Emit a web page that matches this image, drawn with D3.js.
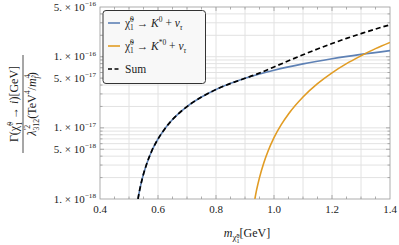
<!DOCTYPE html>
<html>
<head>
<meta charset="utf-8">
<script src="https://cdn.jsdelivr.net/npm/d3@7"></script>
<style>
  body { margin: 0; background: #fff; }
  text { font-family: "Liberation Serif", "DejaVu Serif", serif; }
</style>
</head>
<body>
<svg id="chart" width="399" height="245"></svg>
<script>
// chi~0_1 -> K0 + nu_tau
const massK0 = [0.531, 0.535, 0.54, 0.55, 0.56, 0.58, 0.6, 0.625, 0.65, 0.7, 0.75, 0.8, 0.9, 1.0, 1.1, 1.2, 1.3, 1.4];
const widthK0 = [1.0e-18, 1.23e-18, 1.54e-18, 2.24e-18, 3.03e-18, 4.89e-18, 6.97e-18, 9.9e-18, 1.31e-17, 1.99e-17, 2.71e-17, 3.46e-17, 4.97e-17, 6.46e-17, 7.94e-17, 9.38e-17, 1.08e-16, 1.22e-16];

// chi~0_1 -> K*0 + nu_tau
const massKstar = [0.934, 0.94, 0.95, 0.965, 0.98, 1.0, 1.025, 1.05, 1.1, 1.15, 1.2, 1.25, 1.3, 1.35, 1.4];
const widthKstar = [1.0e-18, 1.34e-18, 2.0e-18, 3.24e-18, 4.77e-18, 7.28e-18, 1.11e-17, 1.57e-17, 2.72e-17, 4.18e-17, 5.94e-17, 8.0e-17, 1.03e-16, 1.3e-16, 1.59e-16];

// Sum
const massSum = [0.531, 0.535, 0.54, 0.55, 0.56, 0.58, 0.6, 0.625, 0.65, 0.7, 0.75, 0.8, 0.9, 0.934, 0.95, 1.0, 1.05, 1.1, 1.15, 1.2, 1.25, 1.3, 1.35, 1.4];
const widthSum = [1.0e-18, 1.23e-18, 1.54e-18, 2.24e-18, 3.03e-18, 4.89e-18, 6.97e-18, 9.9e-18, 1.31e-17, 1.99e-17, 2.71e-17, 3.46e-17, 4.97e-17, 5.56e-17, 5.89e-17, 7.19e-17, 8.76e-17, 1.066e-16, 1.283e-16, 1.532e-16, 1.809e-16, 2.11e-16, 2.45e-16, 2.81e-16];

const xTicks = [0.4, 0.6, 0.8, 1.0, 1.2, 1.4];
const yTicks = [1e-18, 5e-18, 1e-17, 5e-17, 1e-16, 5e-16];
const yTickLabels = [["1.", "18"], ["5.", "18"], ["1.", "17"], ["5.", "17"], ["1.", "16"], ["5.", "16"]];

const pLeft = 100, pRight = 390, pTop = 7, pBottom = 199;

const svg = d3.select("#chart");

const x = d3.scaleLinear().domain([0.4, 1.4]).range([pLeft, pRight]);
const y = d3.scaleLog().domain([1e-18, 5e-16]).range([pBottom, pTop]);

const frameColor = "#9a9a9a";
const gridColor = "#e2e2e2";
const textColor = "#222";

// grid
const xGrid = d3.range(0.5, 1.4, 0.1);
svg.append("g").selectAll("line")
    .data(xGrid)
  .enter().append("line")
    .attr("x1", d => x(d)).attr("x2", d => x(d))
    .attr("y1", pTop).attr("y2", pBottom)
    .attr("stroke", gridColor).attr("stroke-width", 1);

const yGrid = [];
[-18, -17, -16].forEach(e => {
  for (let k = 1; k <= 9; k++) {
    const v = k * Math.pow(10, e);
    if (v > 1e-18 && v < 5e-16) yGrid.push(v);
  }
});
svg.append("g").selectAll("line")
    .data(yGrid)
  .enter().append("line")
    .attr("x1", pLeft).attr("x2", pRight)
    .attr("y1", d => y(d)).attr("y2", d => y(d))
    .attr("stroke", gridColor).attr("stroke-width", 1);

// frame with ticks on all four sides, pointing in
const fr = svg.append("g").attr("stroke", frameColor).attr("stroke-width", 0.8);
d3.range(0.45, 1.4, 0.05).forEach(v => {
  const major = Math.abs(Math.round(v * 5) - v * 5) < 1e-6;
  const len = major ? 4 : 2.5;
  fr.append("line").attr("x1", x(v)).attr("x2", x(v)).attr("y1", pBottom).attr("y2", pBottom - len);
  fr.append("line").attr("x1", x(v)).attr("x2", x(v)).attr("y1", pTop).attr("y2", pTop + len);
});
yGrid.forEach(v => {
  const major = yTicks.some(t => Math.abs(t - v) / t < 1e-6);
  const len = major ? 4 : 2.5;
  fr.append("line").attr("x1", pLeft).attr("x2", pLeft + len).attr("y1", y(v)).attr("y2", y(v));
  fr.append("line").attr("x1", pRight).attr("x2", pRight - len).attr("y1", y(v)).attr("y2", y(v));
});
fr.append("rect")
    .attr("x", pLeft).attr("y", pTop)
    .attr("width", pRight - pLeft).attr("height", pBottom - pTop)
    .attr("fill", "none");

// curves
svg.append("clipPath").attr("id", "plotClip")
  .append("rect").attr("x", pLeft).attr("y", pTop)
  .attr("width", pRight - pLeft).attr("height", pBottom - pTop);

const line = d3.line()
    .x(d => x(d[0]))
    .y(d => y(d[1]))
    .curve(d3.curveMonotoneX);

const plot = svg.append("g").attr("clip-path", "url(#plotClip)");

plot.append("path")
    .attr("d", line(d3.zip(massK0, widthK0)))
    .attr("fill", "none").attr("stroke", "#5e81b5").attr("stroke-width", 1.6);

plot.append("path")
    .attr("d", line(d3.zip(massKstar, widthKstar)))
    .attr("fill", "none").attr("stroke", "#e19c24").attr("stroke-width", 1.6);

plot.append("path")
    .attr("d", line(d3.zip(massSum, widthSum)))
    .attr("fill", "none").attr("stroke", "#000").attr("stroke-width", 1.7)
    .attr("stroke-dasharray", "5,3");

// rich text: each segment [text, {s: scale, r: rise (em), it: italic, back: stack under previous}]
function rich(sel, segs, size) {
  let cur = 0, lastW = 0;
  segs.forEach(([t, o]) => {
    const target = (o.r || 0) * size;
    const ts = sel.append("tspan")
        .attr("dy", -(target - cur))
        .style("font-size", ((o.s || 1) * size) + "px")
        .text(t);
    if (o.it) ts.style("font-style", "italic");
    if (o.back) ts.attr("dx", -lastW);
    cur = target;
    lastW = ts.node().getComputedTextLength();
  });
}
const N = t => [t, {}];
const I = t => [t, { it: true }];
const SUP = t => [t, { s: 0.65, r: 0.42 }];
const SUBI = t => [t, { s: 0.65, r: -0.28, it: true }];
const UNDER = t => [t, { s: 0.65, r: -0.3, back: true }];
const chi01 = [N("χ\u0303"), SUP("0"), UNDER("1")];

// y tick labels
yTicks.forEach((v, i) => {
  const t = svg.append("text")
      .attr("x", pLeft - 4).attr("y", y(v) + 3.5)
      .attr("text-anchor", "end")
      .style("font-size", "11px").attr("fill", textColor);
  rich(t, [N(yTickLabels[i][0] + " × 10"), SUP("\u2212" + yTickLabels[i][1])], 11);
});

// x tick labels
svg.append("g").selectAll("text")
    .data(xTicks)
  .enter().append("text")
    .attr("x", d => x(d)).attr("y", pBottom + 14)
    .attr("text-anchor", "middle")
    .style("font-size", "11px").attr("fill", textColor)
    .text(d => d.toFixed(1));

// x axis title
const xt = svg.append("text")
    .attr("x", 247).attr("y", 237)
    .attr("text-anchor", "middle")
    .style("font-size", "12px").attr("fill", textColor);
rich(xt, [I("m"), ["χ\u0303", { s: 0.75, r: -0.28 }], ["0", { s: 0.5, r: -0.05 }],
          ["1", { s: 0.5, r: -0.5, back: true }], N("[GeV]")], 12);

// y axis title (fraction)
const yl = svg.append("g").attr("transform", "translate(0,104) rotate(-90)");
const num = yl.append("text").attr("x", 0).attr("y", 18)
    .attr("text-anchor", "middle").style("font-size", "12px").attr("fill", textColor);
rich(num, [N("Γ("), ...chi01, N(" → "), I("i"), N(")[GeV]")], 12);
yl.append("line").attr("x1", -49).attr("x2", 49).attr("y1", 23).attr("y2", 23)
    .attr("stroke", textColor).attr("stroke-width", 0.8);
const den = yl.append("text").attr("x", 0).attr("y", 35.5)
    .attr("text-anchor", "middle").style("font-size", "12px").attr("fill", textColor);
rich(den, [I("λ"), SUP("\u20322"), UNDER("312"), N("(TeV"), SUP("4"), N("/"), I("m"),
           SUP("4"), ["f\u0303", { s: 0.65, r: -0.3, back: true, it: true }], N(")")], 12);

// legend
const legendItems = [
  { color: "#5e81b5", dash: null, segs: [...chi01, N(" → "), I("K"), SUP("0"), N(" + "), I("ν"), SUBI("τ")] },
  { color: "#e19c24", dash: null, segs: [...chi01, N(" → "), I("K"), SUP("*0"), N(" + "), I("ν"), SUBI("τ")] },
  { color: "#000", dash: "4,2.5", segs: [N("Sum")] }
];

const lg = svg.append("g");
lg.append("rect")
    .attr("x", 103).attr("y", 10.5).attr("width", 102.5).attr("height", 73)
    .attr("rx", 3).attr("ry", 3)
    .attr("fill", "#f8f8f8").attr("stroke", "#333").attr("stroke-width", 1);

legendItems.forEach((d, i) => {
  const cy = 23 + i * 23;
  lg.append("line")
      .attr("x1", 108).attr("x2", 120).attr("y1", cy).attr("y2", cy)
      .attr("stroke", d.color).attr("stroke-width", 1.6)
      .attr("stroke-dasharray", d.dash);
  const t = lg.append("text").attr("x", 125).attr("y", cy + 4)
      .style("font-size", "11.5px").attr("fill", textColor);
  rich(t, d.segs, 11.5);
});
</script>
</body>
</html>
